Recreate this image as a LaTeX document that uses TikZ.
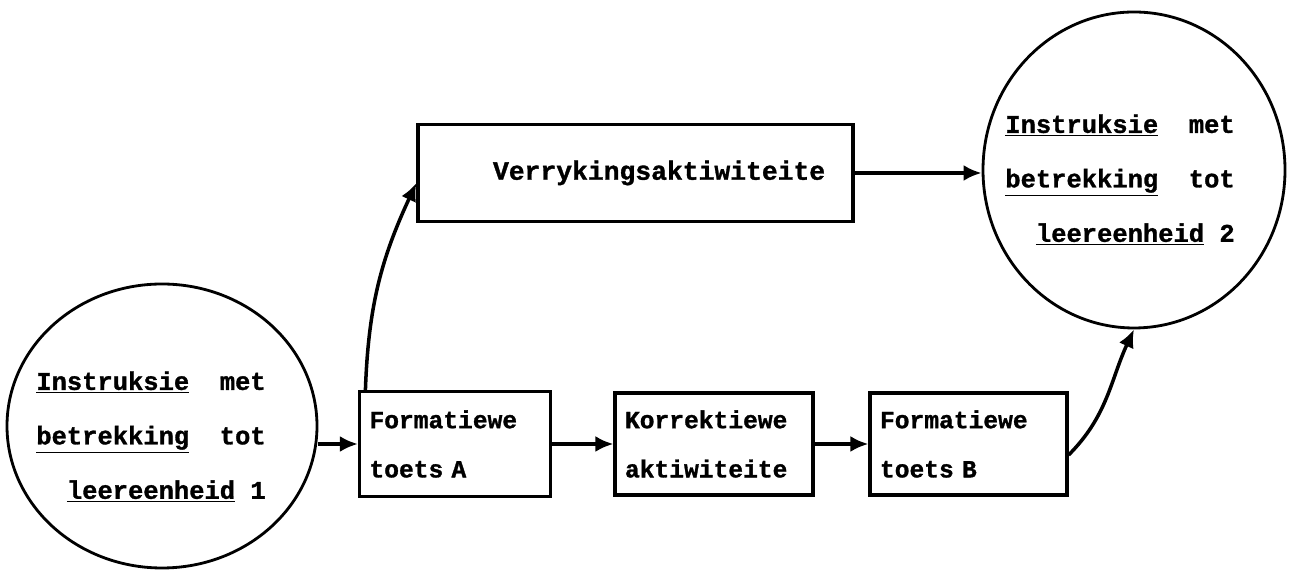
\documentclass[tikz,border=0pt]{standalone}
\usepackage{fontspec}
\usetikzlibrary{arrows.meta,shapes.geometric}
\newfontfamily\typer[WordSpace={1,0,0}, BoldFeatures={FakeBold=1.2}]{Liberation Mono}

\begin{document}
\begin{tikzpicture}[
  blok/.style={draw, line width=1.8pt, inner xsep=0.2cm, align=left,
    font=\typer\bfseries\fontsize{14}{28}\selectfont},
  sirkel/.style={draw, ellipse, line width=1.6pt, inner sep=0pt},
  sirkeltekst/.style={align=left, font=\typer\bfseries\fontsize{14.5}{31}\selectfont},
  pyl/.style={line width=2pt, -{Latex[length=0.36cm,width=0.32cm]}}
]
\useasboundingbox (0,0) rectangle (25.84,11.7);
\node[sirkel, minimum width=6.2cm, minimum height=5.68cm] (lc) at (3.24,3.18) {};
\node[sirkeltekst] (lct) at (3.02,2.96) {\underline{Instruksie}~~met\\ \underline{betrekking}~~tot\\ ~~\underline{leereenheid}~1};
\node[sirkel, minimum width=6.04cm, minimum height=6.32cm] (rc) at (22.68,8.3) {};
\node[sirkeltekst] (rct) at (22.4,8.1) {\underline{Instruksie}~~met\\ \underline{betrekking}~~tot\\ ~~\underline{leereenheid}~2};
\node[blok, text width=3.42cm, minimum height=2.1cm] (fa) at (9.1,2.82) {Formatiewe\\toets A};
\node[blok, text width=3.56cm, minimum height=2.04cm] (fk) at (14.28,2.82) {Korrektiewe\\aktiwiteite};
\node[blok, text width=3.54cm, minimum height=2.04cm] (fb) at (19.37,2.82) {Formatiewe\\toets B};
\node[blok, text width=8.3cm, minimum height=1.94cm, font=\typer\bfseries\fontsize{15}{28}\selectfont] (vr) at (12.71,8.24) {\hspace*{1.3cm}Verrykingsaktiwiteite};
\draw[pyl] (fa.west -| lc.east) -- (fa.west);
\draw[pyl] (fa) -- (fk);
\draw[pyl] (fk) -- (fb);
\draw[pyl] (vr.east) -- (vr.east -| rc.west);
\draw[pyl] ([xshift=0.15cm]fa.north west) to[out=88,in=245] ([yshift=-0.2cm]vr.west);
\draw[pyl] ([yshift=-0.22cm]fb.east) to[out=45,in=245] (rc.south);
\end{tikzpicture}
\end{document}
